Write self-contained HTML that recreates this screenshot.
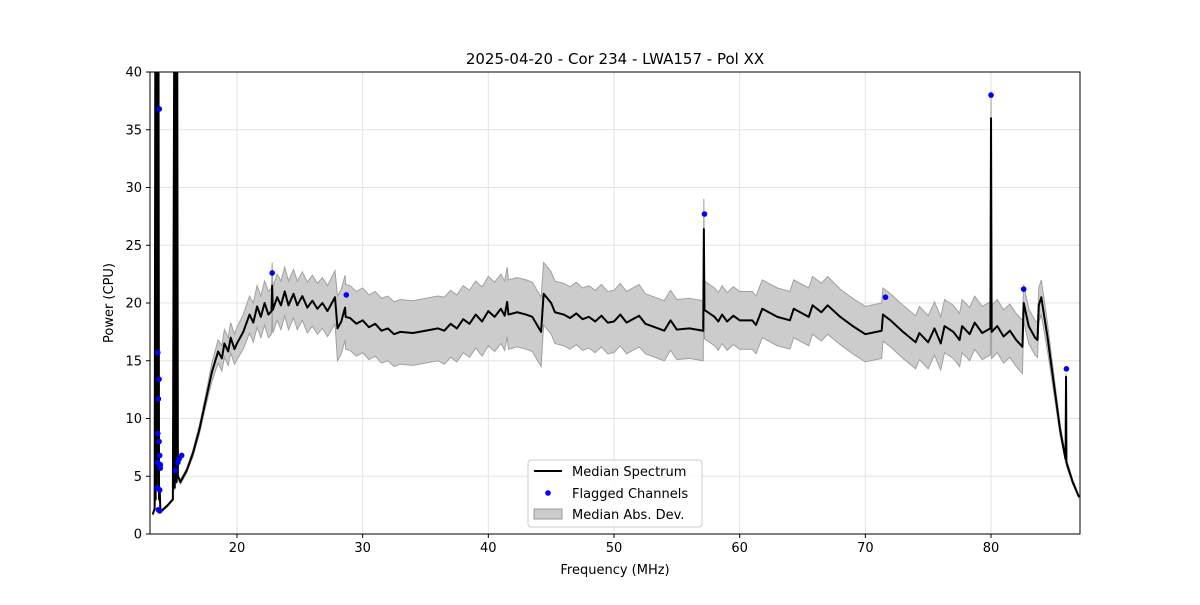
<!DOCTYPE html>
<html><head><meta charset="utf-8"><style>
body{margin:0;background:#fff;font-family:"Liberation Sans","DejaVu Sans",sans-serif}
svg text{font-family:"DejaVu Sans","Liberation Sans",sans-serif}
</style></head><body>
<svg id="chart" width="1200" height="600" xmlns="http://www.w3.org/2000/svg">
<rect width="1200" height="600" fill="#fff"/>
<text x="615" y="64" font-size="15" text-anchor="middle">2025-04-20 - Cor 234 - LWA157 - Pol XX</text>
<g id="grid"></g>
<defs><clipPath id="clip"><rect x="150" y="72" width="930" height="462"/></clipPath></defs>
<g id="plot" clip-path="url(#clip)"></g>
<g id="flags"></g>
<rect x="150" y="72" width="930" height="462" fill="none" stroke="#000" stroke-width="1"/>
<g id="ticks"></g>
<text x="615" y="574" font-size="13" text-anchor="middle">Frequency (MHz)</text>
<text x="113" y="303" font-size="13" text-anchor="middle" transform="rotate(-90 113 303)">Power (CPU)</text>
<g>
<rect x="528" y="460" width="174" height="67" rx="3" fill="#fff" fill-opacity="0.8" stroke="#ccc"/>
<line x1="534" y1="471" x2="562" y2="471" stroke="#000" stroke-width="2"/>
<text x="572" y="476" font-size="13">Median Spectrum</text>
<circle cx="548" cy="493" r="2.8" fill="#0000ff"/>
<text x="572" y="498" font-size="13">Flagged Channels</text>
<rect x="534" y="509" width="28" height="10" fill="#cccccc" stroke="#999"/>
<text x="572" y="519" font-size="13">Median Abs. Dev.</text>
</g>
</svg>
<script>
const freqs=[
13.3,13.45,13.5,13.53,13.56,13.6,13.63,13.66,13.7,13.73,
13.76,13.8,13.85,13.9,14.0,14.5,14.9,15.0,15.05,15.1,
15.15,15.2,15.25,15.3,15.5,16,16.5,17,17.5,18,
18.5,18.8,19,19.3,19.5,19.8,20,20.5,21,21.3,
21.6,21.9,22.2,22.5,22.75,22.8,22.85,23.2,23.5,23.8,
24.1,24.5,24.8,25.2,25.6,26,26.4,26.8,27.2,27.8,
28.0,28.3,28.6,28.65,29,29.5,30,30.5,31,31.5,
32,32.5,33,34,35,36,36.5,37,37.5,38,
38.5,39,39.5,40,40.5,41,41.3,41.5,41.6,42.3,
43,43.5,44.2,44.4,45,45.3,46,46.5,47,47.5,
48,48.5,49,49.5,50,50.5,51,52,52.5,53,
54,54.5,55,56,57.1,57.15,57.2,58,58.3,58.6,
59,59.5,60,61,61.3,61.8,63,64,64.3,65.5,
65.8,66.5,67,68,69,70,71.3,71.4,72,73,
74,74.3,75,75.5,76,76.3,77,77.5,77.7,78.3,
78.7,79.3,79.95,80.0,80.05,80.5,81,81.5,82,82.5,
82.6,83,83.5,83.7,83.8,84,84.5,85,85.5,85.93,
85.97,86.0,86.5,87];
const medVals=[
1.7,2.2,40,3,40,40,4,40,35,5,
40,3,4,2.2,2.0,2.5,3.0,40,4,40,
40,4.5,40,5,4.5,5.5,7,9,11.5,14,
15.8,15.2,16.5,15.8,17,16,16.5,17.5,19,18.3,
19.7,18.8,20,19,19.3,21.5,19.4,20.5,19.8,21,
19.8,20.8,19.8,20.6,19.6,20.2,19.5,20,19.3,20.5,
17.8,18.4,19.6,18.8,18.7,18.2,18.5,17.9,18.2,17.6,
17.8,17.3,17.5,17.4,17.6,17.8,17.6,18.2,17.8,18.6,
18.2,19,18.4,19.3,18.8,19.5,18.9,20.1,19.0,19.2,
19,18.8,17.5,20.8,20,19.2,19,18.7,19.1,18.6,
18.8,18.4,18.9,18.3,18.4,19.0,18.3,18.9,18.2,18.0,
17.6,18.5,17.7,17.8,17.6,26.4,19.4,18.8,18.4,19.0,
18.4,18.9,18.5,18.5,18.1,19.5,18.8,18.5,19.5,18.8,
19.8,19.2,19.8,18.8,18.0,17.3,17.6,19.0,18.5,17.5,
16.6,17.4,16.6,17.8,16.5,18.0,17.5,16.8,18.0,17.3,
18.3,17.4,17.8,36,17.5,18,17.1,17.6,16.8,16.2,
20,18,17,16.8,19.8,20.5,17,13,9,6.5,
13.6,6.2,4.5,3.2];
const madVals=[
.1,.2,.3,.2,.3,.3,.2,.3,.3,.2,
.3,.2,.2,.1,.1,.1,.1,.3,.2,.3,
.3,.2,.3,.2,.2,.2,.3,.4,.5,.8,
1.0,1.1,1.2,1.2,1.3,1.3,1.4,1.5,1.6,1.7,
1.8,1.8,1.9,2,2,2,2,2,2.1,2.1,
2.1,2.1,2.1,2.1,2.2,2.2,2.2,2.2,2.2,2.3,
2.8,2.8,2.8,2.8,2.8,2.8,2.8,2.8,2.8,2.8,
2.8,2.8,2.8,2.8,2.8,2.8,2.9,2.9,2.9,2.9,
2.9,2.9,3.0,3.0,3.0,3.0,3.0,3.0,3.0,3.0,
3.0,3.0,3.0,2.7,2.7,2.7,2.7,2.7,2.7,2.7,
2.7,2.7,2.7,2.7,2.7,2.7,2.7,2.7,2.6,2.6,
2.6,2.6,2.6,2.6,2.6,2.6,2.5,2.5,2.5,2.5,
2.5,2.5,2.5,2.5,2.5,2.5,2.5,2.5,2.5,2.5,
2.5,2.5,2.5,2.4,2.4,2.4,2.4,2.3,2.3,2.3,
2.3,2.3,2.3,2.3,2.3,2.3,2.3,2.3,2.3,2.3,
2.3,2.3,2.3,2.3,2.3,2.3,2.3,2.3,2.3,2.3,
1.6,1.5,1.5,1.5,1.5,1.5,1.2,0.8,0.5,0.3,
0.3,0.3,0.2,0.1];
const flagFreqs=[13.82,13.7,13.75,13.8,13.7,13.8,13.85,13.7,13.9,13.9,13.65,13.85,13.75,13.85,15.1,15.3,15.4,15.6,22.8,28.7,57.2,71.6,80.0,82.6,86.0];
const flagVals=[36.8,15.7,11.7,13.4,8.7,8.0,6.8,6.2,6.0,5.7,4.0,3.8,2.1,2.0,5.5,6.2,6.5,6.8,22.6,20.7,27.7,20.5,38.0,21.2,14.3];
const xTicks=[20,30,40,50,60,70,80];
const yTicks=[0,5,10,15,20,25,30,35,40];

const X0=150,X1=1080,Y0=534,Y1=72,FMIN=13.08,FMAX=87.08,VMIN=0,VMAX=40;
const sx=f=>X0+(f-FMIN)/(FMAX-FMIN)*(X1-X0);
const sy=v=>Y0-(v-VMIN)/(VMAX-VMIN)*(Y0-Y1);
const NS='http://www.w3.org/2000/svg';
function mk(tag,parent,attrs){const e=document.createElementNS(NS,tag);for(const k in attrs)e.setAttribute(k,attrs[k]);parent.appendChild(e);return e;}
const grid=document.getElementById('grid'),ticks=document.getElementById('ticks'),plot=document.getElementById('plot'),flags=document.getElementById('flags');
xTicks.forEach(t=>{const x=sx(t);
 const g=mk('line',grid,{x1:x,x2:x,y1:Y1,y2:Y0,stroke:'#e3e3e3','stroke-width':1});
 
 
 const tk=mk('line',ticks,{x1:x,x2:x,y1:Y0,y2:Y0+4,stroke:'#000'});
 
 
 const tl=mk('text',ticks,{x:x,y:Y0+18,'font-size':13,'text-anchor':'middle'});tl.textContent=t;
 
 });
yTicks.forEach(t=>{const y=sy(t);
 const g=mk('line',grid,{x1:X0,x2:X1,y1:y,y2:y,stroke:'#e3e3e3','stroke-width':1});
 
 
 const tk=mk('line',ticks,{x1:X0-4,x2:X0,y1:y,y2:y,stroke:'#000'});
 
 
 const tl=mk('text',ticks,{x:X0-8,y:y+4.5,'font-size':13,'text-anchor':'end'});tl.textContent=t;
 
 });
const n=Math.min(freqs.length,medVals.length,madVals.length);
let up=[],dn=[],ln=[];
for(let i=0;i<n;i++){up.push(sx(freqs[i])+','+sy(medVals[i]+madVals[i]));dn.push(sx(freqs[i])+','+sy(medVals[i]-madVals[i]));ln.push(sx(freqs[i])+','+sy(medVals[i]));}
const band=mk('polygon',plot,{points:up.concat(dn.reverse()).join(' '),fill:'#cccccc',stroke:'#a0a0a0','stroke-width':1});


const line=mk('polyline',plot,{points:ln.join(' '),fill:'none',stroke:'#000','stroke-width':2,'stroke-linejoin':'round'});


flagFreqs.forEach((f,i)=>{const c=mk('circle',flags,{cx:sx(f),cy:sy(flagVals[i]),r:2.8,fill:'#0000ff'});
 
 });
</script>
</body></html>
